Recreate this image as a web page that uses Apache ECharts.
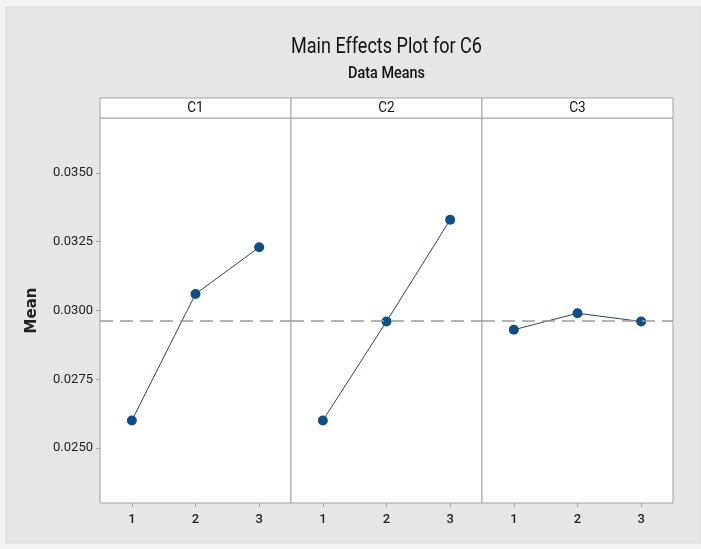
<!DOCTYPE html>
<html>
<head>
<meta charset="utf-8">
<script src="https://cdn.jsdelivr.net/npm/echarts@6/dist/echarts.min.js"></script>
<style>
  html, body { margin: 0; padding: 0; background: #f4f4f4; }
  #chart { width: 701px; height: 549px; }
</style>
</head>
<body>
<div id="chart"></div>
<script>
// factor levels and panel names
const levels = ['1', '2', '3']
const factors = ['C1', 'C2', 'C3']

// mean of C6 at each level, per factor
const c1Means = [0.0260, 0.0306, 0.0323]
const c2Means = [0.0260, 0.0296, 0.0333]
const c3Means = [0.0293, 0.0299, 0.0296]
const grandMean = 0.02964

// y axis tick labels
const yTicks = [0.0250, 0.0275, 0.0300, 0.0325, 0.0350]

const allMeans = [c1Means, c2Means, c3Means]

const font = 'Roboto, sans-serif'
const plotLeft = 100
const plotTop = 118
const panelW = 191
const plotBottom = 549 - 503
const gridColor = '#a3a3a3'
const centerX = plotLeft + 1.5 * panelW

const chart = echarts.init(document.getElementById('chart'))

const grids = factors.map((f, i) => ({
  left: plotLeft + i * panelW,
  top: plotTop,
  width: panelW,
  bottom: plotBottom,
  show: true,
  backgroundColor: '#ffffff',
  borderColor: gridColor,
  borderWidth: 1
}))

const xAxes = factors.map((f, i) => ({
  type: 'category',
  gridIndex: i,
  data: levels,
  boundaryGap: true,
  axisLine: { show: false },
  axisTick: { show: true, alignWithLabel: true, length: 4, lineStyle: { color: gridColor } },
  axisLabel: { color: '#222', fontFamily: font, fontSize: 13, fontWeight: 500, margin: 10 },
  splitLine: { show: false }
}))

const yAxes = factors.map((f, i) => ({
  type: 'value',
  gridIndex: i,
  min: 0.0230,
  max: 0.0370,
  name: i === 0 ? 'Mean' : '',
  nameLocation: 'middle',
  nameRotate: 90,
  nameGap: 60,
  nameTextStyle: { fontFamily: 'DejaVu Sans', fontSize: 15, fontWeight: 'bold', color: '#222' },
  axisLine: { show: false },
  axisTick: { show: i === 0, length: 4, customValues: yTicks, lineStyle: { color: gridColor } },
  axisLabel: {
    show: i === 0,
    customValues: yTicks,
    formatter: v => v.toFixed(4),
    color: '#222',
    fontFamily: font,
    fontSize: 13,
    margin: 7
  },
  splitLine: { show: false }
}))

const series = factors.map((f, i) => ({
  name: f,
  type: 'line',
  xAxisIndex: i,
  yAxisIndex: i,
  data: allMeans[i],
  symbol: 'circle',
  symbolSize: 10,
  itemStyle: { color: '#0e4f8a' },
  lineStyle: { color: '#2c4660', width: 1 },
  markLine: {
    silent: true,
    symbol: 'none',
    precision: 6,
    label: { show: false },
    lineStyle: { color: '#9a9a9a', type: [13, 7], width: 1.5 },
    data: [{ yAxis: grandMean }]
  }
}))

// panel header strips
const strips = []
factors.forEach((f, i) => {
  strips.push({
    type: 'rect',
    shape: { x: plotLeft + i * panelW, y: 98, width: panelW, height: 20 },
    style: { fill: '#ffffff', stroke: gridColor, lineWidth: 1 }
  })
  strips.push({
    type: 'text',
    x: plotLeft + i * panelW + panelW / 2,
    y: 108,
    scaleX: 0.9,
    style: { text: f, fill: '#111', font: '15px ' + font, textAlign: 'center', textVerticalAlign: 'middle' }
  })
})

const options = {
  backgroundColor: '#f4f4f4',
  animation: false,
  graphic: [
    {
      type: 'rect',
      z: -10,
      shape: { x: 6, y: 7, width: 695, height: 536 },
      style: { fill: '#e6e6e6', stroke: '#d9d9d9', lineWidth: 1 }
    },
    // title and subtitle, narrowed to match the condensed original font
    {
      type: 'text',
      x: centerX,
      y: 47,
      scaleX: 0.82,
      style: { text: 'Main Effects Plot for C6', fill: '#111', font: '22px ' + font, textAlign: 'center', textVerticalAlign: 'middle' }
    },
    {
      type: 'text',
      x: centerX,
      y: 74,
      scaleX: 0.9,
      style: { text: 'Data Means', fill: '#111', font: '500 16px ' + font, textAlign: 'center', textVerticalAlign: 'middle' }
    },
    ...strips
  ],
  grid: grids,
  xAxis: xAxes,
  yAxis: yAxes,
  series: series
}

chart.setOption(options)
</script>
</body>
</html>
